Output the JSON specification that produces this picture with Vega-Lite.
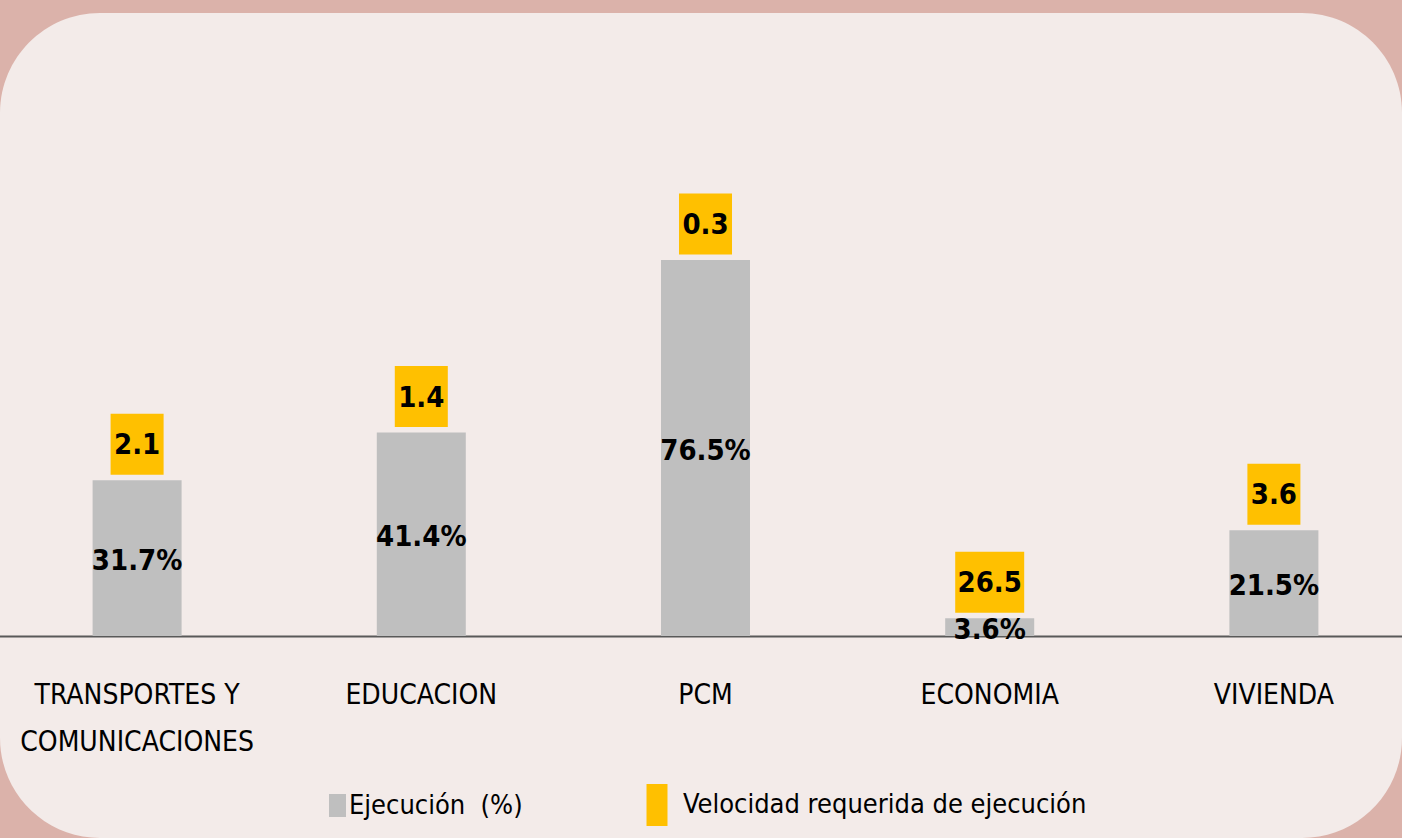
{
  "$schema": "https://vega.github.io/schema/vega-lite/v6.json",
  "width": 1402,
  "height": 825,
  "autosize": {"type": "none"},
  "padding": {"top": 13, "left": 0, "right": 0, "bottom": 0},
  "background": "#dbb2aa",
  "config": {
    "view": {"fill": "#f3ebe9", "stroke": null, "cornerRadius": 100},
    "font": "'DejaVu Sans Condensed', 'Liberation Sans', sans-serif"
  },
  "data": {
    "values": [
      {"Sector": "TRANSPORTES Y COMUNICACIONES", "Ejec": 0.317, "Vel": 2.1},
      {"Sector": "EDUCACION", "Ejec": 0.414, "Vel": 1.4},
      {"Sector": "PCM", "Ejec": 0.765, "Vel": 0.3},
      {"Sector": "ECONOMIA", "Ejec": 0.036, "Vel": 26.5},
      {"Sector": "VIVIENDA", "Ejec": 0.215, "Vel": 3.6}
    ]
  },
  "encoding": {
    "x": {
      "field": "Sector",
      "type": "nominal",
      "sort": null,
      "scale": {"type": "band", "range": [-5, 1416], "paddingInner": 0, "paddingOuter": 0},
      "axis": {
        "title": null,
        "orient": "bottom",
        "offset": -202,
        "domainColor": "#595959",
        "domainWidth": 2,
        "ticks": false,
        "tickSize": 0,
        "labelPadding": 45,
        "labelFontSize": 28,
        "labelColor": "black",
        "labelAngle": 0,
        "labelBaseline": "top",
        "labelLineHeight": 47,
        "labelLimit": 0,
        "labelExpr": "datum.label == 'TRANSPORTES Y COMUNICACIONES' ? ['TRANSPORTES Y', 'COMUNICACIONES'] : datum.label"
      }
    }
  },
  "layer": [
    {
      "mark": {"type": "bar", "width": 89},
      "encoding": {
        "y": {"field": "Ejec", "type": "quantitative", "scale": {"domain": [-0.411, 1.2675], "nice": false, "zero": false}, "axis": null},
        "y2": {"datum": 0},
        "color": {
          "datum": "Ejecución \u00a0(%)",
          "scale": {"range": ["#bfbfbf"]},
          "legend": {
            "orient": "none",
            "legendX": 324,
            "legendY": 779,
            "title": null,
            "padding": 0,
            "symbolType": "M-0.74,-1H0.74V1H-0.74Z",
            "symbolSize": 529,
            "symbolStrokeWidth": 0,
            "symbolOpacity": 1,
            "labelFontSize": 27,
            "labelColor": "black",
            "labelOffset": -2,
            "labelLimit": 0
          }
        }
      }
    },
    {
      "mark": {"type": "text", "fontSize": 29, "fontWeight": "bold", "baseline": "middle", "dy": 3, "color": "black"},
      "encoding": {
        "y": {"field": "Ejec", "type": "quantitative", "scale": {"domain": [-0.822, 2.535], "nice": false, "zero": false}, "axis": null},
        "text": {"field": "Ejec", "format": ".1%"}
      }
    },
    {
      "mark": {"type": "point", "filled": true, "opacity": 1, "yOffset": -36, "size": 3721, "strokeWidth": 0},
      "encoding": {
        "y": {"field": "Ejec", "type": "quantitative", "scale": {"domain": [-0.411, 1.2675], "nice": false, "zero": false}, "axis": null},
        "shape": {
          "condition": {"test": "datum.Vel >= 10", "value": "M-1.131,-1H1.131V1H-1.131Z"},
          "value": "M-0.869,-1H0.869V1H-0.869Z"
        },
        "fill": {
          "datum": "Velocidad requerida de ejecución",
          "scale": {"range": ["#ffc000"]},
          "legend": {
            "orient": "none",
            "legendX": 636,
            "legendY": 771,
            "title": null,
            "padding": 0,
            "symbolType": "M-0.5,-1H0.5V1H-0.5Z",
            "symbolSize": 1764,
            "symbolStrokeWidth": 0,
            "symbolOpacity": 1,
            "labelFontSize": 27,
            "labelColor": "black",
            "labelOffset": 5,
            "labelLimit": 0
          }
        }
      }
    },
    {
      "mark": {"type": "text", "fontSize": 29, "fontWeight": "bold", "baseline": "middle", "yOffset": -36, "dy": 1, "color": "black"},
      "encoding": {
        "y": {"field": "Ejec", "type": "quantitative", "scale": {"domain": [-0.411, 1.2675], "nice": false, "zero": false}, "axis": null},
        "text": {"field": "Vel", "format": ".1f"}
      }
    }
  ],
  "resolve": {"scale": {"y": "independent"}}
}
